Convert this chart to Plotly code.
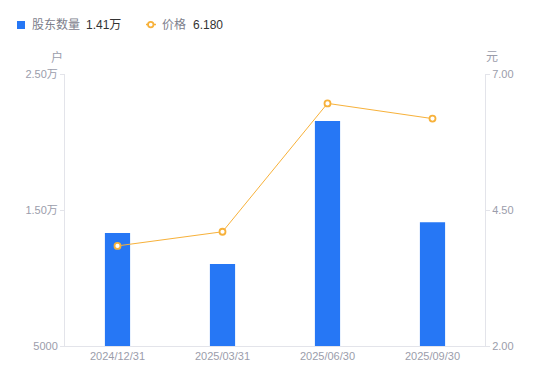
import plotly.graph_objects as go

categories = ["2024/12/31", "2025/03/31", "2025/06/30", "2025/09/30"]
holders = [13300, 11030, 21540, 14100]
prices = [3.84, 4.10, 6.46, 6.18]
left_ticks = [5000, 15000, 25000]
left_ticktext = ["5000", "1.50万", "2.50万"]
right_ticks = [2.0, 4.5, 7.0]
right_ticktext = ["2.00", "4.50", "7.00"]
legend_names = ["股东数量", "价格"]
legend_values = ["1.41万", "6.180"]

BLUE = "#2677f5"
ORANGE = "#f7b13a"
AXIS = "#e3e4ea"
TICKC = "#9b9dab"
FONT = "Liberation Sans, Noto Sans CJK SC, sans-serif"

L, R, T, B = 65, 65, 74, 35
W, H = 550, 381
PW, PH = W - L - R, H - T - B


def px(x):
    return (x - L) / PW


def py(y):
    return (H - B - y) / PH


fig = go.Figure()
fig.add_trace(go.Bar(
    x=categories, y=holders, name=legend_names[0],
    marker=dict(color=BLUE, line=dict(width=0)), width=0.24, yaxis="y",
))
fig.add_trace(go.Scatter(
    x=categories, y=prices, name=legend_names[1],
    mode="lines+markers", yaxis="y2",
    line=dict(color=ORANGE, width=1),
    marker=dict(symbol="circle", size=6, color="white", line=dict(color=ORANGE, width=1.8)),
))

shapes = [
    dict(type="rect", xref="paper", yref="paper", x0=px(17), x1=px(25), y0=py(29), y1=py(21),
         fillcolor=BLUE, line=dict(width=0)),
    dict(type="line", xref="paper", yref="paper", x0=px(146), x1=px(156), y0=py(24.5), y1=py(24.5),
         line=dict(color=ORANGE, width=1.5)),
    dict(type="circle", xref="paper", yref="paper", x0=px(148), x1=px(153.5), y0=py(27.3), y1=py(21.8),
         fillcolor="white", line=dict(color=ORANGE, width=1.8)),
]

ann = [
    dict(text="户", xref="paper", yref="paper", x=px(64.5), y=py(57), xanchor="right", yanchor="middle",
         showarrow=False, font=dict(size=12, color=TICKC)),
    dict(text="元", xref="paper", yref="paper", x=px(484), y=py(57), xanchor="left", yanchor="middle",
         showarrow=False, font=dict(size=12, color=TICKC)),
    dict(text=legend_names[0], xref="paper", yref="paper", x=px(30), y=py(24.5), xanchor="left",
         yanchor="middle", showarrow=False, font=dict(size=12, color="#7d808c")),
    dict(text=legend_values[0], xref="paper", yref="paper", x=px(84), y=py(24.5), xanchor="left",
         yanchor="middle", showarrow=False, font=dict(size=12, color="#333333")),
    dict(text=legend_names[1], xref="paper", yref="paper", x=px(160), y=py(24.5), xanchor="left",
         yanchor="middle", showarrow=False, font=dict(size=12, color="#7d808c")),
    dict(text=legend_values[1], xref="paper", yref="paper", x=px(191), y=py(24.5), xanchor="left",
         yanchor="middle", showarrow=False, font=dict(size=12, color="#333333")),
]

fig.update_layout(
    width=W, height=H,
    margin=dict(l=L, r=R, t=T, b=B, autoexpand=False),
    paper_bgcolor="white", plot_bgcolor="white",
    font=dict(family=FONT, size=11, color=TICKC),
    showlegend=False,
    xaxis=dict(type="category", range=[-0.5, 3.5], showline=True, linecolor=AXIS, linewidth=1,
               ticks="", showgrid=False, zeroline=False, tickfont=dict(size=11, color=TICKC)),
    yaxis=dict(range=[5000, 25000], tickvals=left_ticks, ticktext=left_ticktext,
               showline=True, linecolor=AXIS, linewidth=1, ticks="outside", ticklen=4,
               tickcolor=AXIS, showgrid=False, zeroline=False, tickfont=dict(size=11, color=TICKC)),
    yaxis2=dict(range=[2, 7], tickvals=right_ticks, ticktext=right_ticktext, overlaying="y",
                side="right", showline=True, linecolor=AXIS, linewidth=1, ticks="outside",
                ticklen=4, tickcolor=AXIS, showgrid=False, zeroline=False,
                tickfont=dict(size=11, color=TICKC)),
    shapes=shapes,
    annotations=ann,
)

fig.write_html("out.html")
